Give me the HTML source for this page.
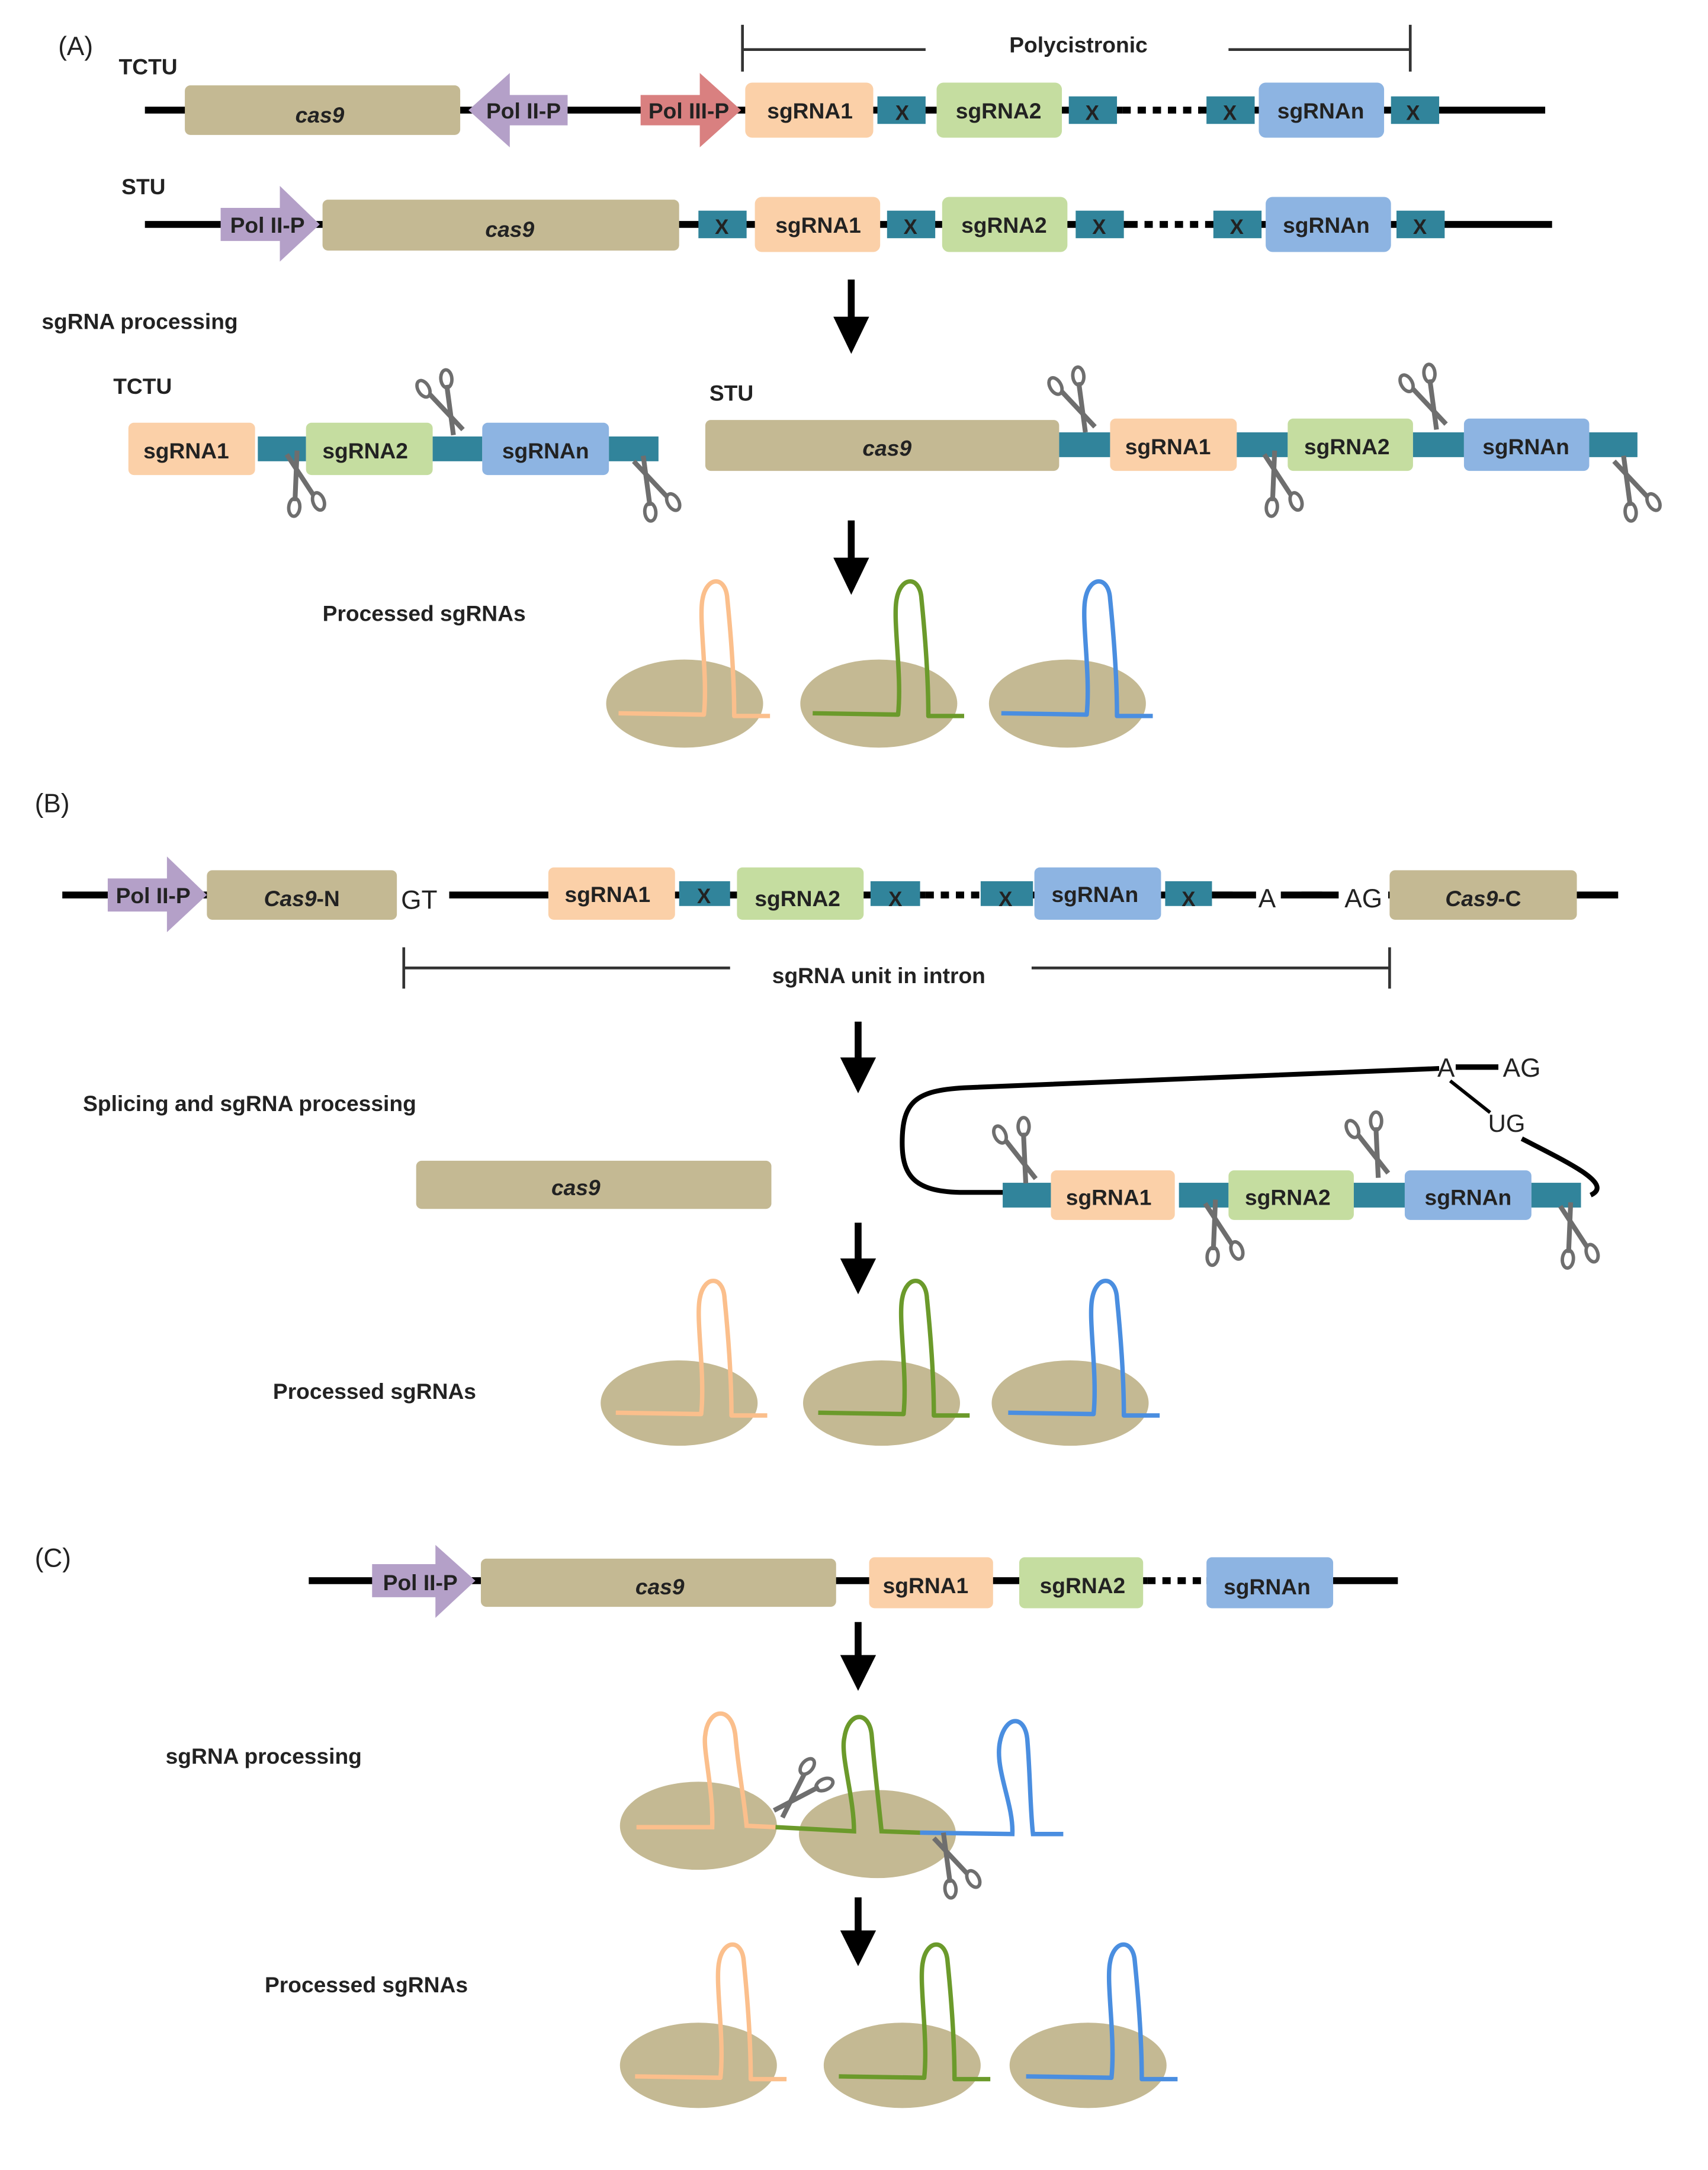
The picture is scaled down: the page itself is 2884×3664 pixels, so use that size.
<!DOCTYPE html>
<html><head><meta charset="utf-8"><style>
html,body{margin:0;padding:0;background:#fff;}
svg{display:block;}
text{font-family:"Liberation Sans",sans-serif;font-weight:bold;fill:#222;}
</style></head><body>
<svg width="2884" height="3664" viewBox="0 0 1240 1576" xmlns="http://www.w3.org/2000/svg">
<defs>
<g id="sc">
 <line x1="0" y1="0" x2="-8" y2="-34" stroke="#6e6e6e" stroke-width="3.5"/>
 <line x1="-8" y1="0" x2="6" y2="-34" stroke="#6e6e6e" stroke-width="3.5"/>
 <ellipse cx="-10" cy="-40" rx="4" ry="6.5" fill="none" stroke="#6e6e6e" stroke-width="2.5"/>
 <ellipse cx="8" cy="-38" rx="4" ry="6.5" fill="none" stroke="#6e6e6e" stroke-width="2.5" transform="rotate(25 8 -38)"/>
</g>
<path id="hp" d="M-48,8 L14,9 C17,-20 10,-60 13,-75 C16,-92 30,-92 31,-75 C33,-55 36,-20 36,10 L62,10" fill="none" stroke-width="3.2" stroke-linejoin="round"/>
</defs>

<!-- ===== (A) ===== -->
<text x="42" y="40" font-size="19" style="font-weight:normal">(A)</text>
<text x="86" y="54" font-size="16">TCTU</text>
<line x1="105" y1="80" x2="1122" y2="80" stroke="#000" stroke-width="5"/>
<line x1="815" y1="80" x2="870" y2="80" stroke="#fff" stroke-width="6"/>
<line x1="815" y1="80" x2="872" y2="80" stroke="#000" stroke-width="5" stroke-dasharray="6 5"/>
<rect x="134" y="62" width="200" height="36" rx="4" fill="#c4b993"/>
<text x="232" y="89" font-size="16" text-anchor="middle" font-style="italic">cas9</text>
<polygon points="412,69 370,69 370,53 340,80 370,107 370,91 412,91" fill="#b4a0c8"/>
<text x="380" y="86" font-size="16" text-anchor="middle">Pol II-P</text>
<polygon points="465,69 508,69 508,53 538,80 508,107 508,91 465,91" fill="#d98080"/>
<text x="500" y="86" font-size="16" text-anchor="middle">Pol III-P</text>
<rect x="541" y="60" width="93" height="40" rx="5" fill="#fbd0a8"/><text x="588" y="86" font-size="16" text-anchor="middle">sgRNA1</text>
<rect x="637" y="70" width="35" height="20" fill="#31849b"/><text x="655" y="87" font-size="15" text-anchor="middle">X</text>
<rect x="680" y="60" width="91" height="40" rx="5" fill="#c5dda0"/><text x="725" y="86" font-size="16" text-anchor="middle">sgRNA2</text>
<rect x="776" y="70" width="35" height="20" fill="#31849b"/><text x="793" y="87" font-size="15" text-anchor="middle">X</text>
<rect x="876" y="70" width="35" height="20" fill="#31849b"/><text x="893" y="87" font-size="15" text-anchor="middle">X</text>
<rect x="914" y="60" width="91" height="40" rx="5" fill="#8db4e2"/><text x="959" y="86" font-size="16" text-anchor="middle">sgRNAn</text>
<rect x="1010" y="70" width="35" height="20" fill="#31849b"/><text x="1026" y="87" font-size="15" text-anchor="middle">X</text>
<path d="M539,18 V52 M539,36 H672 M892,36 H1024 M1024,18 V52" stroke="#333" stroke-width="2" fill="none"/>
<text x="783" y="38" font-size="16" text-anchor="middle">Polycistronic</text>

<text x="88" y="141" font-size="16">STU</text>
<line x1="105" y1="163" x2="1127" y2="163" stroke="#000" stroke-width="5"/>
<line x1="820" y1="163" x2="877" y2="163" stroke="#fff" stroke-width="6"/>
<line x1="820" y1="163" x2="877" y2="163" stroke="#000" stroke-width="5" stroke-dasharray="6 5"/>
<polygon points="160,151 203,151 203,135 232,163 203,190 203,175 160,175" fill="#b4a0c8"/>
<text x="194" y="169" font-size="16" text-anchor="middle">Pol II-P</text>
<rect x="234" y="145" width="259" height="37" rx="4" fill="#c4b993"/>
<text x="370" y="172" font-size="16" text-anchor="middle" font-style="italic">cas9</text>
<rect x="507" y="153" width="35" height="20" fill="#31849b"/><text x="524" y="170" font-size="15" text-anchor="middle">X</text>
<rect x="548" y="143" width="91" height="40" rx="5" fill="#fbd0a8"/><text x="594" y="169" font-size="16" text-anchor="middle">sgRNA1</text>
<rect x="644" y="153" width="35" height="20" fill="#31849b"/><text x="661" y="170" font-size="15" text-anchor="middle">X</text>
<rect x="684" y="143" width="91" height="40" rx="5" fill="#c5dda0"/><text x="729" y="169" font-size="16" text-anchor="middle">sgRNA2</text>
<rect x="781" y="153" width="35" height="20" fill="#31849b"/><text x="798" y="170" font-size="15" text-anchor="middle">X</text>
<rect x="881" y="153" width="35" height="20" fill="#31849b"/><text x="898" y="170" font-size="15" text-anchor="middle">X</text>
<rect x="919" y="143" width="91" height="40" rx="5" fill="#8db4e2"/><text x="963" y="169" font-size="16" text-anchor="middle">sgRNAn</text>
<rect x="1014" y="153" width="35" height="20" fill="#31849b"/><text x="1031" y="170" font-size="15" text-anchor="middle">X</text>

<path d="M618,203 V240" stroke="#000" stroke-width="5"/><polygon points="605,230 631,230 618,257" fill="#000"/>
<text x="30" y="239" font-size="16">sgRNA processing</text>

<text x="82" y="286" font-size="16">TCTU</text>
<rect x="93" y="307" width="92" height="38" rx="4" fill="#fbd0a8"/><text x="135" y="333" font-size="16" text-anchor="middle">sgRNA1</text>
<rect x="187" y="317" width="35" height="18" fill="#31849b"/>
<rect x="222" y="307" width="92" height="38" rx="4" fill="#c5dda0"/><text x="265" y="333" font-size="16" text-anchor="middle">sgRNA2</text>
<rect x="314" y="317" width="36" height="18" fill="#31849b"/>
<rect x="350" y="307" width="92" height="38" rx="4" fill="#8db4e2"/><text x="396" y="333" font-size="16" text-anchor="middle">sgRNAn</text>
<rect x="442" y="317" width="36" height="18" fill="#31849b"/>
<use href="#sc" transform="translate(336,312) rotate(-30)"/>
<use href="#sc" transform="translate(208,330) rotate(160)"/>
<use href="#sc" transform="translate(460,335) rotate(150)"/>

<text x="515" y="291" font-size="16">STU</text>
<rect x="512" y="305" width="257" height="37" rx="4" fill="#c4b993"/>
<text x="644" y="331" font-size="16" text-anchor="middle" font-style="italic">cas9</text>
<rect x="769" y="314" width="37" height="18" fill="#31849b"/>
<rect x="806" y="304" width="92" height="38" rx="4" fill="#fbd0a8"/><text x="848" y="330" font-size="16" text-anchor="middle">sgRNA1</text>
<rect x="898" y="314" width="37" height="18" fill="#31849b"/>
<rect x="935" y="304" width="91" height="38" rx="4" fill="#c5dda0"/><text x="978" y="330" font-size="16" text-anchor="middle">sgRNA2</text>
<rect x="1026" y="314" width="37" height="18" fill="#31849b"/>
<rect x="1063" y="304" width="91" height="38" rx="4" fill="#8db4e2"/><text x="1108" y="330" font-size="16" text-anchor="middle">sgRNAn</text>
<rect x="1154" y="314" width="35" height="18" fill="#31849b"/>
<use href="#sc" transform="translate(795,310) rotate(-30)"/>
<use href="#sc" transform="translate(918,330) rotate(160)"/>
<use href="#sc" transform="translate(1050,308) rotate(-30)"/>
<use href="#sc" transform="translate(1172,335) rotate(150)"/>

<path d="M618,378 V415" stroke="#000" stroke-width="5"/><polygon points="605,405 631,405 618,432" fill="#000"/>
<text x="234" y="451" font-size="16">Processed sgRNAs</text>
<ellipse cx="497" cy="511" rx="57" ry="32" fill="#c4b993"/><use href="#hp" stroke="#fbbf8c" transform="translate(497,510)"/>
<ellipse cx="638" cy="511" rx="57" ry="32" fill="#c4b993"/><use href="#hp" stroke="#6b9a2b" transform="translate(638,510)"/>
<ellipse cx="775" cy="511" rx="57" ry="32" fill="#c4b993"/><use href="#hp" stroke="#4a8ee0" transform="translate(775,510)"/>

<!-- ===== (B) ===== -->
<text x="25" y="590" font-size="19" style="font-weight:normal">(B)</text>
<line x1="45" y1="650" x2="1175" y2="650" stroke="#000" stroke-width="5"/>
<rect x="286" y="640" width="40" height="22" fill="#fff"/>
<rect x="895" y="640" width="50" height="22" fill="#fff"/>
<rect x="960" y="640" width="48" height="22" fill="#fff"/>
<line x1="672" y1="650" x2="714" y2="650" stroke="#fff" stroke-width="6"/>
<line x1="672" y1="650" x2="714" y2="650" stroke="#000" stroke-width="5" stroke-dasharray="6 5"/>
<polygon points="78,638 121,638 121,622 150,650 121,677 121,662 78,662" fill="#b4a0c8"/>
<text x="111" y="656" font-size="16" text-anchor="middle">Pol II-P</text>
<rect x="150" y="632" width="138" height="36" rx="4" fill="#c4b993"/>
<text x="219" y="658" font-size="16" text-anchor="middle"><tspan font-style="italic">Cas9</tspan>-N</text>
<text x="291" y="660" font-size="19" style="font-weight:normal">GT</text>
<rect x="398" y="630" width="92" height="38" rx="4" fill="#fbd0a8"/><text x="441" y="655" font-size="16" text-anchor="middle">sgRNA1</text>
<rect x="493" y="640" width="37" height="18" fill="#31849b"/><text x="511" y="656" font-size="15" text-anchor="middle">X</text>
<rect x="535" y="630" width="92" height="38" rx="4" fill="#c5dda0"/><text x="579" y="658" font-size="16" text-anchor="middle">sgRNA2</text>
<rect x="632" y="640" width="36" height="18" fill="#31849b"/><text x="650" y="658" font-size="15" text-anchor="middle">X</text>
<rect x="712" y="640" width="38" height="18" fill="#31849b"/><text x="730" y="658" font-size="15" text-anchor="middle">X</text>
<rect x="751" y="630" width="92" height="38" rx="4" fill="#8db4e2"/><text x="795" y="655" font-size="16" text-anchor="middle">sgRNAn</text>
<rect x="846" y="640" width="34" height="18" fill="#31849b"/><text x="863" y="658" font-size="15" text-anchor="middle">X</text>
<line x1="880" y1="650" x2="912" y2="650" stroke="#000" stroke-width="5"/>
<text x="920" y="659" font-size="19" text-anchor="middle" style="font-weight:normal">A</text>
<line x1="930" y1="650" x2="972" y2="650" stroke="#000" stroke-width="5"/>
<text x="990" y="659" font-size="19" text-anchor="middle" style="font-weight:normal">AG</text>
<rect x="1009" y="632" width="136" height="36" rx="4" fill="#c4b993"/>
<text x="1077" y="658" font-size="16" text-anchor="middle"><tspan font-style="italic">Cas9</tspan>-C</text>
<path d="M293,688 V718 M293,703 H530 M749,703 H1009 M1009,688 V718" stroke="#333" stroke-width="2" fill="none"/>
<text x="638" y="714" font-size="16" text-anchor="middle">sgRNA unit in intron</text>

<path d="M623,742 V778" stroke="#000" stroke-width="5"/><polygon points="610,768 636,768 623,794" fill="#000"/>
<text x="60" y="807" font-size="16">Splicing and sgRNA processing</text>
<rect x="302" y="843" width="258" height="35" rx="4" fill="#c4b993"/>
<text x="418" y="868" font-size="16" text-anchor="middle" font-style="italic">cas9</text>
<path d="M1045,776 L700,790 C665,792 655,800 655,830 C655,855 665,866 700,866 L730,866" fill="none" stroke="#000" stroke-width="3.5"/>
<line x1="1057" y1="775" x2="1088" y2="775" stroke="#000" stroke-width="4"/>
<text x="1050" y="782" font-size="19" text-anchor="middle" style="font-weight:normal">A</text>
<text x="1105" y="782" font-size="19" text-anchor="middle" style="font-weight:normal">AG</text>
<line x1="1053" y1="785" x2="1082" y2="808" stroke="#000" stroke-width="2.5"/>
<text x="1094" y="822" font-size="18" text-anchor="middle" style="font-weight:normal">UG</text>
<path d="M1105,827 C1140,845 1172,860 1155,868" fill="none" stroke="#000" stroke-width="3.5"/>
<rect x="728" y="859" width="35" height="18" fill="#31849b"/>
<rect x="763" y="850" width="90" height="36" rx="4" fill="#fbd0a8"/><text x="805" y="875" font-size="16" text-anchor="middle">sgRNA1</text>
<rect x="856" y="859" width="36" height="18" fill="#31849b"/>
<rect x="892" y="850" width="91" height="36" rx="4" fill="#c5dda0"/><text x="935" y="875" font-size="16" text-anchor="middle">sgRNA2</text>
<rect x="983" y="859" width="37" height="18" fill="#31849b"/>
<rect x="1020" y="850" width="92" height="36" rx="4" fill="#8db4e2"/><text x="1066" y="875" font-size="16" text-anchor="middle">sgRNAn</text>
<rect x="1112" y="859" width="36" height="18" fill="#31849b"/>
<use href="#sc" transform="translate(752,856) rotate(-25)"/>
<use href="#sc" transform="translate(875,874) rotate(160)"/>
<use href="#sc" transform="translate(1008,852) rotate(-25)"/>
<use href="#sc" transform="translate(1133,876) rotate(160)"/>

<path d="M623,888 V924" stroke="#000" stroke-width="5"/><polygon points="610,914 636,914 623,940" fill="#000"/>
<text x="198" y="1016" font-size="16">Processed sgRNAs</text>
<ellipse cx="493" cy="1019" rx="57" ry="31" fill="#c4b993"/><use href="#hp" stroke="#fbbf8c" transform="translate(495,1018)"/>
<ellipse cx="640" cy="1019" rx="57" ry="31" fill="#c4b993"/><use href="#hp" stroke="#6b9a2b" transform="translate(642,1018)"/>
<ellipse cx="777" cy="1019" rx="57" ry="31" fill="#c4b993"/><use href="#hp" stroke="#4a8ee0" transform="translate(780,1018)"/>

<!-- ===== (C) ===== -->
<text x="25" y="1138" font-size="19" style="font-weight:normal">(C)</text>
<line x1="224" y1="1148" x2="1015" y2="1148" stroke="#000" stroke-width="5"/>
<line x1="833" y1="1148" x2="876" y2="1148" stroke="#fff" stroke-width="6"/>
<line x1="833" y1="1148" x2="876" y2="1148" stroke="#000" stroke-width="5" stroke-dasharray="6 5"/>
<polygon points="270,1136 316,1136 316,1122 345,1148 316,1175 316,1160 270,1160" fill="#b4a0c8"/>
<text x="305" y="1155" font-size="16" text-anchor="middle">Pol II-P</text>
<rect x="349" y="1132" width="258" height="35" rx="4" fill="#c4b993"/>
<text x="479" y="1158" font-size="16" text-anchor="middle" font-style="italic">cas9</text>
<rect x="631" y="1131" width="90" height="37" rx="4" fill="#fbd0a8"/><text x="672" y="1157" font-size="16" text-anchor="middle">sgRNA1</text>
<rect x="740" y="1131" width="90" height="37" rx="4" fill="#c5dda0"/><text x="786" y="1157" font-size="16" text-anchor="middle">sgRNA2</text>
<rect x="876" y="1131" width="92" height="37" rx="4" fill="#8db4e2"/><text x="920" y="1158" font-size="16" text-anchor="middle">sgRNAn</text>

<path d="M623,1178 V1212" stroke="#000" stroke-width="5"/><polygon points="610,1202 636,1202 623,1228" fill="#000"/>
<text x="120" y="1281" font-size="16">sgRNA processing</text>
<ellipse cx="507" cy="1326" rx="57" ry="32" fill="#c4b993"/>
<ellipse cx="637" cy="1332" rx="57" ry="32" fill="#c4b993"/>
<path d="M462,1327 L517,1327 C518,1300 510,1270 512,1260 C514,1240 532,1238 534,1262 C536,1285 540,1305 542,1326 L563,1327" fill="none" stroke="#fbbf8c" stroke-width="3.2"/>
<path d="M563,1327 L620,1330 C620,1305 610,1275 613,1262 C616,1242 632,1242 633,1262 C635,1285 638,1310 640,1330 L668,1331" fill="none" stroke="#6b9a2b" stroke-width="3.2"/>
<path d="M668,1331 L735,1332 C736,1310 722,1285 726,1265 C730,1245 745,1245 746,1265 C748,1290 748,1315 750,1332 L772,1332" fill="none" stroke="#4a8ee0" stroke-width="3.2"/>
<use href="#sc" transform="translate(568,1320) rotate(40)"/>
<use href="#sc" transform="translate(678,1335) rotate(150)"/>

<path d="M623,1378 V1412" stroke="#000" stroke-width="5"/><polygon points="610,1402 636,1402 623,1428" fill="#000"/>
<text x="192" y="1447" font-size="16">Processed sgRNAs</text>
<ellipse cx="507" cy="1500" rx="57" ry="31" fill="#c4b993"/><use href="#hp" stroke="#fbbf8c" transform="translate(509,1500)"/>
<ellipse cx="655" cy="1500" rx="57" ry="31" fill="#c4b993"/><use href="#hp" stroke="#6b9a2b" transform="translate(657,1500)"/>
<ellipse cx="790" cy="1500" rx="57" ry="31" fill="#c4b993"/><use href="#hp" stroke="#4a8ee0" transform="translate(793,1500)"/>
</svg>
</body></html>
